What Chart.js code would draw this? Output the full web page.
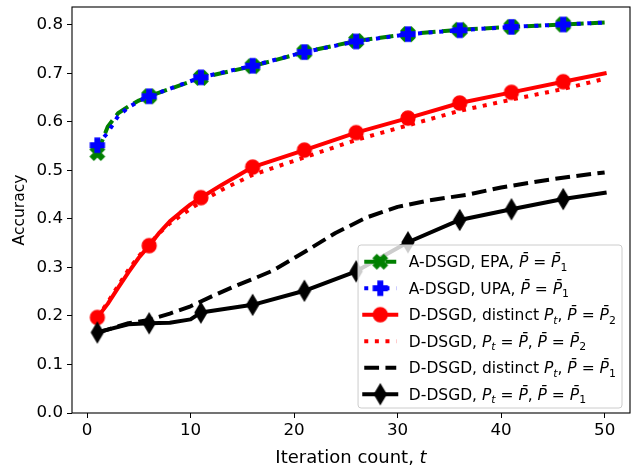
<!DOCTYPE html>
<html><head><meta charset="utf-8">
<script src="https://cdn.jsdelivr.net/npm/chart.js@4/dist/chart.umd.min.js"></script>
<style>html,body{margin:0;padding:0;background:#fff;}canvas{display:block;}</style>
</head><body>
<canvas id="c" width="644" height="470"></canvas>
<script>
// ---- data ----
const tA = [1, 2, 3, 4, 5, 6, 11, 16, 21, 26, 31, 36, 41, 46, 50];
const accEPA = [0.536, 0.590, 0.618, 0.632, 0.644, 0.653, 0.691, 0.715, 0.744, 0.767, 0.781, 0.790, 0.796, 0.801, 0.805];
const accUPA = [0.552, 0.578, 0.612, 0.630, 0.643, 0.653, 0.692, 0.716, 0.744, 0.766, 0.781, 0.789, 0.796, 0.801, 0.805];
const tRed = [1, 2, 3, 4, 5, 6, 7, 8, 9, 10, 11, 13, 16, 21, 26, 31, 36, 41, 46, 50];
const accDistinctP2 = [0.197, 0.225, 0.258, 0.290, 0.320, 0.345, 0.372, 0.395, 0.413, 0.430, 0.444, 0.470, 0.507, 0.542, 0.578, 0.608, 0.639, 0.661, 0.683, 0.700];
const accFixedP2 = [0.197, 0.228, 0.262, 0.295, 0.323, 0.348, 0.371, 0.391, 0.406, 0.421, 0.435, 0.460, 0.491, 0.527, 0.563, 0.593, 0.623, 0.646, 0.668, 0.689];
const tBlackDash = [1, 2, 4, 6, 8, 10, 12, 14, 16, 18, 21, 24, 27, 30, 33, 37, 40, 44, 47, 50];
const accDistinctP1 = [0.166, 0.172, 0.185, 0.192, 0.205, 0.220, 0.240, 0.259, 0.276, 0.294, 0.332, 0.371, 0.403, 0.425, 0.438, 0.451, 0.465, 0.479, 0.488, 0.496];
const tBlack = [1, 2, 4, 6, 8, 10, 11, 16, 21, 26, 31, 36, 41, 46, 50];
const accFixedP1 = [0.166, 0.172, 0.183, 0.185, 0.186, 0.193, 0.207, 0.223, 0.252, 0.292, 0.352, 0.398, 0.420, 0.441, 0.454];
const markerTs = [1, 6, 11, 16, 21, 26, 31, 36, 41, 46];
const xTicks = [0, 10, 20, 30, 40, 50];
const yTicks = [0.0, 0.1, 0.2, 0.3, 0.4, 0.5, 0.6, 0.7, 0.8];
const xTitle = [{t: 'Iteration count, '}, {t: 't', it: 1}];
const yTitle = 'Accuracy';
const PB = 'P\u0304';
const legendLabels = [
  [{t: 'A-DSGD, EPA, '}, {t: PB, it: 1}, {t: ' = '}, {t: PB, it: 1}, {t: '1', sub: 1}],
  [{t: 'A-DSGD, UPA, '}, {t: PB, it: 1}, {t: ' = '}, {t: PB, it: 1}, {t: '1', sub: 1}],
  [{t: 'D-DSGD, distinct '}, {t: 'P', it: 1}, {t: 't', it: 1, sub: 1}, {t: ', '}, {t: PB, it: 1}, {t: ' = '}, {t: PB, it: 1}, {t: '2', sub: 1}],
  [{t: 'D-DSGD, '}, {t: 'P', it: 1}, {t: 't', it: 1, sub: 1}, {t: ' = '}, {t: PB, it: 1}, {t: ', '}, {t: PB, it: 1}, {t: ' = '}, {t: PB, it: 1}, {t: '2', sub: 1}],
  [{t: 'D-DSGD, distinct '}, {t: 'P', it: 1}, {t: 't', it: 1, sub: 1}, {t: ', '}, {t: PB, it: 1}, {t: ' = '}, {t: PB, it: 1}, {t: '1', sub: 1}],
  [{t: 'D-DSGD, '}, {t: 'P', it: 1}, {t: 't', it: 1, sub: 1}, {t: ' = '}, {t: PB, it: 1}, {t: ', '}, {t: PB, it: 1}, {t: ' = '}, {t: PB, it: 1}, {t: '1', sub: 1}]
];

// ---- styling ----
const FONT = '"DejaVu Sans", "Liberation Sans", sans-serif';
const MS = 13.9; // marker size (px)
function markerCanvas(kind, color) {
  const S = 26, c = document.createElement('canvas');
  c.width = S; c.height = S;
  const g = c.getContext('2d');
  g.translate(S / 2, S / 2);
  g.fillStyle = color; g.strokeStyle = color; g.lineWidth = 1.39; g.lineJoin = 'miter';
  g.beginPath();
  let pts = null;
  if (kind === 'P') pts = [[-1,-3],[1,-3],[1,-1],[3,-1],[3,1],[1,1],[1,3],[-1,3],[-1,1],[-3,1],[-3,-1],[-1,-1]].map(p => [p[0] / 6, p[1] / 6]);
  if (kind === 'X') pts = [[-1,-2],[0,-1],[1,-2],[2,-1],[1,0],[2,1],[1,2],[0,1],[-1,2],[-2,1],[-1,0],[-2,-1]].map(p => [p[0] / 4, p[1] / 4]);
  if (kind === 'd') pts = [[0,-0.7071],[0.4243,0],[0,0.7071],[-0.4243,0]];
  if (pts) pts.forEach((p, i) => { const x = p[0] * MS, y = p[1] * MS; i ? g.lineTo(x, y) : g.moveTo(x, y); });
  else g.arc(0, 0, MS / 2, 0, Math.PI * 2);
  g.closePath(); g.fill(); g.stroke();
  return c;
}
const mkX = markerCanvas('X', '#008000');
const mkP = markerCanvas('P', '#0000ff');
const mkO = markerCanvas('o', '#ff0000');
const mkD = markerCanvas('d', '#000000');

function pts(ts, vs) { return ts.map((t, i) => ({x: t, y: vs[i]})); }
function markerRadius(ctx) { return (ctx.raw && markerTs.includes(ctx.raw.x)) ? 7 : 0; }

const LW = 4;
const series = [
  {data: pts(tA, accEPA), color: '#008000', lw: LW, dash: [3.7 * LW, 1.6 * LW], marker: mkX, order: 6},
  {data: pts(tA, accUPA), color: '#0000ff', lw: LW, dash: [1 * LW, 1.65 * LW], marker: mkP, order: 5},
  {data: pts(tRed, accDistinctP2), color: '#ff0000', lw: LW, dash: [], marker: mkO, order: 4},
  {data: pts(tRed, accFixedP2), color: '#ff0000', lw: LW, dash: [1 * LW, 1.65 * LW], marker: null, order: 3},
  {data: pts(tBlackDash, accDistinctP1), color: '#000000', lw: LW, dash: [3.7 * LW, 1.6 * LW], marker: null, order: 2},
  {data: pts(tBlack, accFixedP1), color: '#000000', lw: LW, dash: [], marker: mkD, order: 1}
];

const datasets = series.map(s => ({
  data: s.data,
  borderColor: s.color,
  backgroundColor: s.color,
  borderWidth: s.lw,
  borderDash: s.dash,
  borderCapStyle: s.dash.length ? 'butt' : 'square',
  borderJoinStyle: 'round',
  tension: 0,
  fill: false,
  order: s.order,
  pointStyle: s.marker || 'circle',
  pointRadius: s.marker ? markerRadius : 0,
  pointHoverRadius: 0,
  pointBorderWidth: 0
}));

function rich(ctx, segs, x, y, fs, draw) {
  let cx = x;
  for (const s of segs) {
    const size = s.sub ? fs * 0.7 : fs;
    ctx.font = (s.it ? 'italic ' : '') + size + 'px ' + FONT;
    const w = ctx.measureText(s.t).width;
    if (draw) ctx.fillText(s.t, cx, y + (s.sub ? fs * 0.22 : 0));
    cx += w;
  }
  return cx - x;
}

const mplPlugin = {
  id: 'mpl',
  afterDatasetsDraw(chart) {
    const ctx = chart.ctx, a = chart.chartArea;
    ctx.save();
    ctx.strokeStyle = '#000'; ctx.lineWidth = 1.1;
    ctx.strokeRect(a.left, a.top, a.right - a.left, a.bottom - a.top);
    ctx.restore();
  },
  afterDraw(chart) {
    const ctx = chart.ctx, a = chart.chartArea;
    ctx.save();
    ctx.fillStyle = '#000';
    ctx.textBaseline = 'alphabetic';
    // x title
    const fsX = 18;
    const wX = rich(ctx, xTitle, 0, 0, fsX, false);
    rich(ctx, xTitle, (a.left + a.right) / 2 - wX / 2, 463, fsX, true);
    // y title
    ctx.save();
    ctx.translate(24, (a.top + a.bottom) / 2);
    ctx.rotate(-Math.PI / 2);
    ctx.font = '15.5px ' + FONT;
    ctx.textAlign = 'center';
    ctx.fillText(yTitle, 0, 0);
    ctx.restore();

    // legend
    const fs = 15.5;
    let maxW = 0;
    legendLabels.forEach(l => { maxW = Math.max(maxW, rich(ctx, l, 0, 0, fs, false)); });
    const pad = 6.2, hl = 32, htp = 12.6, rowH = 26.5;
    const right = a.right - 8, bottom = a.bottom - 5;
    const w = pad + hl + htp + maxW + pad;
    const h = 163;
    const left = right - w, top = bottom - h;
    ctx.beginPath();
    if (ctx.roundRect) ctx.roundRect(left, top, w, h, 3); else ctx.rect(left, top, w, h);
    ctx.fillStyle = 'rgba(255,255,255,0.8)';
    ctx.fill();
    ctx.strokeStyle = '#cccccc'; ctx.lineWidth = 1;
    ctx.stroke();
    legendLabels.forEach((l, i) => {
      const s = series[i];
      const cy = top + 16.7 + i * rowH;
      const hx0 = left + pad, hx1 = hx0 + hl;
      ctx.save();
      ctx.strokeStyle = s.color; ctx.lineWidth = s.lw;
      ctx.setLineDash(s.dash);
      ctx.lineCap = s.dash.length ? 'butt' : 'square';
      ctx.beginPath(); ctx.moveTo(hx0, cy); ctx.lineTo(hx1, cy); ctx.stroke();
      ctx.restore();
      if (s.marker) ctx.drawImage(s.marker, (hx0 + hx1) / 2 - s.marker.width / 2, cy - s.marker.height / 2);
      ctx.fillStyle = '#000';
      rich(ctx, l, hx1 + htp, cy + 5.6, fs, true);
    });
    ctx.restore();
  }
};

new Chart(document.getElementById('c'), {
  type: 'line',
  data: {datasets},
  options: {
    responsive: false,
    devicePixelRatio: 1,
    animation: false,
    events: [],
    layout: {padding: {left: 0, right: 14, top: 2, bottom: 0}},
    plugins: {legend: {display: false}, tooltip: {enabled: false}},
    scales: {
      x: {
        type: 'linear', min: -1.45, max: 52.45,
        afterBuildTicks: s => { s.ticks = xTicks.map(v => ({value: v})); },
        afterFit: s => { s.height = 57; s.paddingLeft = 0; s.paddingRight = 0; },
        grid: {drawOnChartArea: false, drawTicks: true, tickLength: 5, color: '#000', lineWidth: 1},
        border: {display: false},
        ticks: {color: '#000', font: {family: FONT, size: 16.7}, padding: 3, maxRotation: 0, autoSkip: false, callback: v => String(v)}
      },
      y: {
        type: 'linear', min: 0, max: 0.837,
        afterBuildTicks: s => { s.ticks = yTicks.map(v => ({value: v})); },
        afterFit: s => { s.width = 72; s.paddingTop = 0; s.paddingBottom = 0; },
        grid: {drawOnChartArea: false, drawTicks: true, tickLength: 5, color: '#000', lineWidth: 1},
        border: {display: false},
        ticks: {color: '#000', font: {family: FONT, size: 16.7}, padding: 4, autoSkip: false, callback: v => v.toFixed(1)}
      }
    }
  },
  plugins: [mplPlugin]
});
</script>
</body></html>
